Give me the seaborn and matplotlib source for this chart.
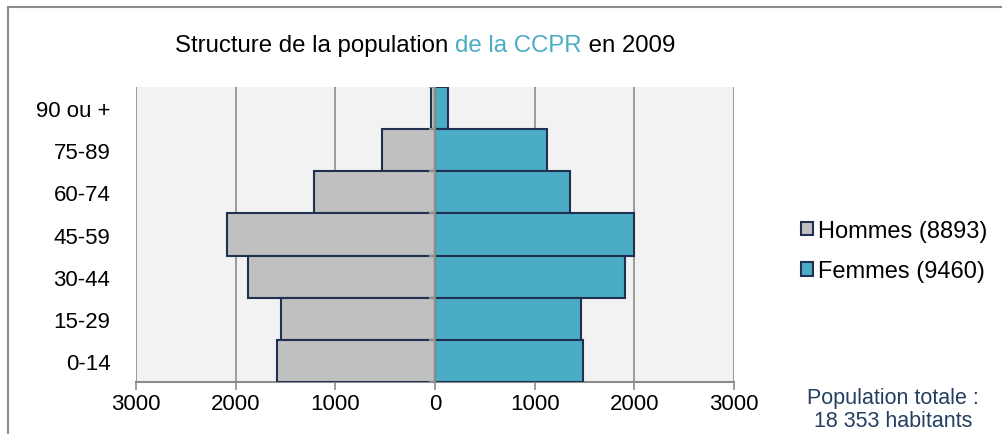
import numpy as np
import pandas as pd
import matplotlib
matplotlib.use("Agg")
import matplotlib.pyplot as plt
from matplotlib.patches import Rectangle
from matplotlib.ticker import FuncFormatter
import seaborn as sns

# Age groups, top of the pyramid first
ages = ["90 ou +", "75-89", "60-74", "45-59", "30-44", "15-29", "0-14"]
hommes = [45, 535, 1211, 2090, 1876, 1550, 1586]
femmes = [135, 1120, 1355, 2000, 1905, 1465, 1480]
labels = ["Hommes (8893)", "Femmes (9460)"]
x_ticks = [-3000, -2000, -1000, 0, 1000, 2000, 3000]

gris = "#c0c0c0"
bleu = "#4bacc6"
bord = "#1f3050"

data = pd.DataFrame({
    "age": ages * 2,
    "pop": [-v for v in hommes] + femmes,
    "sexe": [labels[0]] * len(ages) + [labels[1]] * len(ages),
})

sns.set_style("white")
plt.rcParams["font.family"] = ["Liberation Sans", "DejaVu Sans"]

fig = plt.figure(figsize=(10.02, 4.35), dpi=100)
ax = fig.add_axes([136 / 1002, 1 - 383 / 435, 598 / 1002, 295 / 435])
ax.set_facecolor("#f2f2f2")

sns.barplot(data=data, x="pop", y="age", hue="sexe", order=ages,
            palette={labels[0]: gris, labels[1]: bleu}, dodge=False,
            saturation=1, width=1.0, orient="h", edgecolor=bord,
            linewidth=1.5, ax=ax, zorder=3)

ax.set_xlim(-3000, 3000)
ax.set_ylim(len(ages) - 0.5, -0.5)
ax.set_xticks(x_ticks)
ax.xaxis.set_major_formatter(FuncFormatter(lambda v, p: f"{abs(int(v))}"))
ax.grid(axis="x", color="#8c8c8c", linewidth=1.2, zorder=0)
ax.set_axisbelow(True)
ax.set_xlabel("")
ax.set_ylabel("")

for s in ["top", "right", "left"]:
    ax.spines[s].set_visible(False)
ax.spines["bottom"].set_color("#8c8c8c")
ax.spines["bottom"].set_linewidth(1.5)
ax.tick_params(axis="x", bottom=True, length=6, width=1.2, color="#8c8c8c",
               labelsize=16, labelcolor="black", pad=2)
ax.tick_params(axis="y", left=False, labelsize=16, labelcolor="black", pad=15)

# central axis with its small ticks between age groups
ax.axvline(0, color="#8c8c8c", linewidth=1.5, zorder=4)
ax.hlines(np.arange(len(ages) + 1) - 0.5, -60, 0, color="#8c8c8c",
          linewidth=1.5, zorder=4)

leg = ax.legend(loc="center left", bbox_to_anchor=(1.112, 0.444), frameon=False,
                fontsize=17, handlelength=0.5, handleheight=0.5,
                handletextpad=0.2, labelspacing=0.78, borderpad=0,
                borderaxespad=0)
for txt in leg.get_texts():
    txt.set_color("black")

# title with coloured part
t1 = fig.text(175 / 1002, 1 - 46 / 435, "Structure de la population ",
              fontsize=17.3, va="center", color="black")
t2 = ax.annotate("de la CCPR", xycoords=t1, xy=(1, 0), va="bottom",
                 fontsize=17.3, color=bleu)
ax.annotate(" en 2009", xycoords=t2, xy=(1, 0), va="bottom",
            fontsize=17.3, color="black")

fig.text(893 / 1002, 1 - 410 / 435, "Population totale :\n18 353 habitants",
         ha="center", va="center", fontsize=15.5, color="#243f60",
         linespacing=1.1)

# outer frame of the chart
fig.add_artist(Rectangle((8 / 1002, -0.1), 1.1, 1.1 - 8 / 435,
                         transform=fig.transFigure, fill=False,
                         edgecolor="#8c8c8c", linewidth=1.5))

fig.savefig("out.png", dpi=100)
